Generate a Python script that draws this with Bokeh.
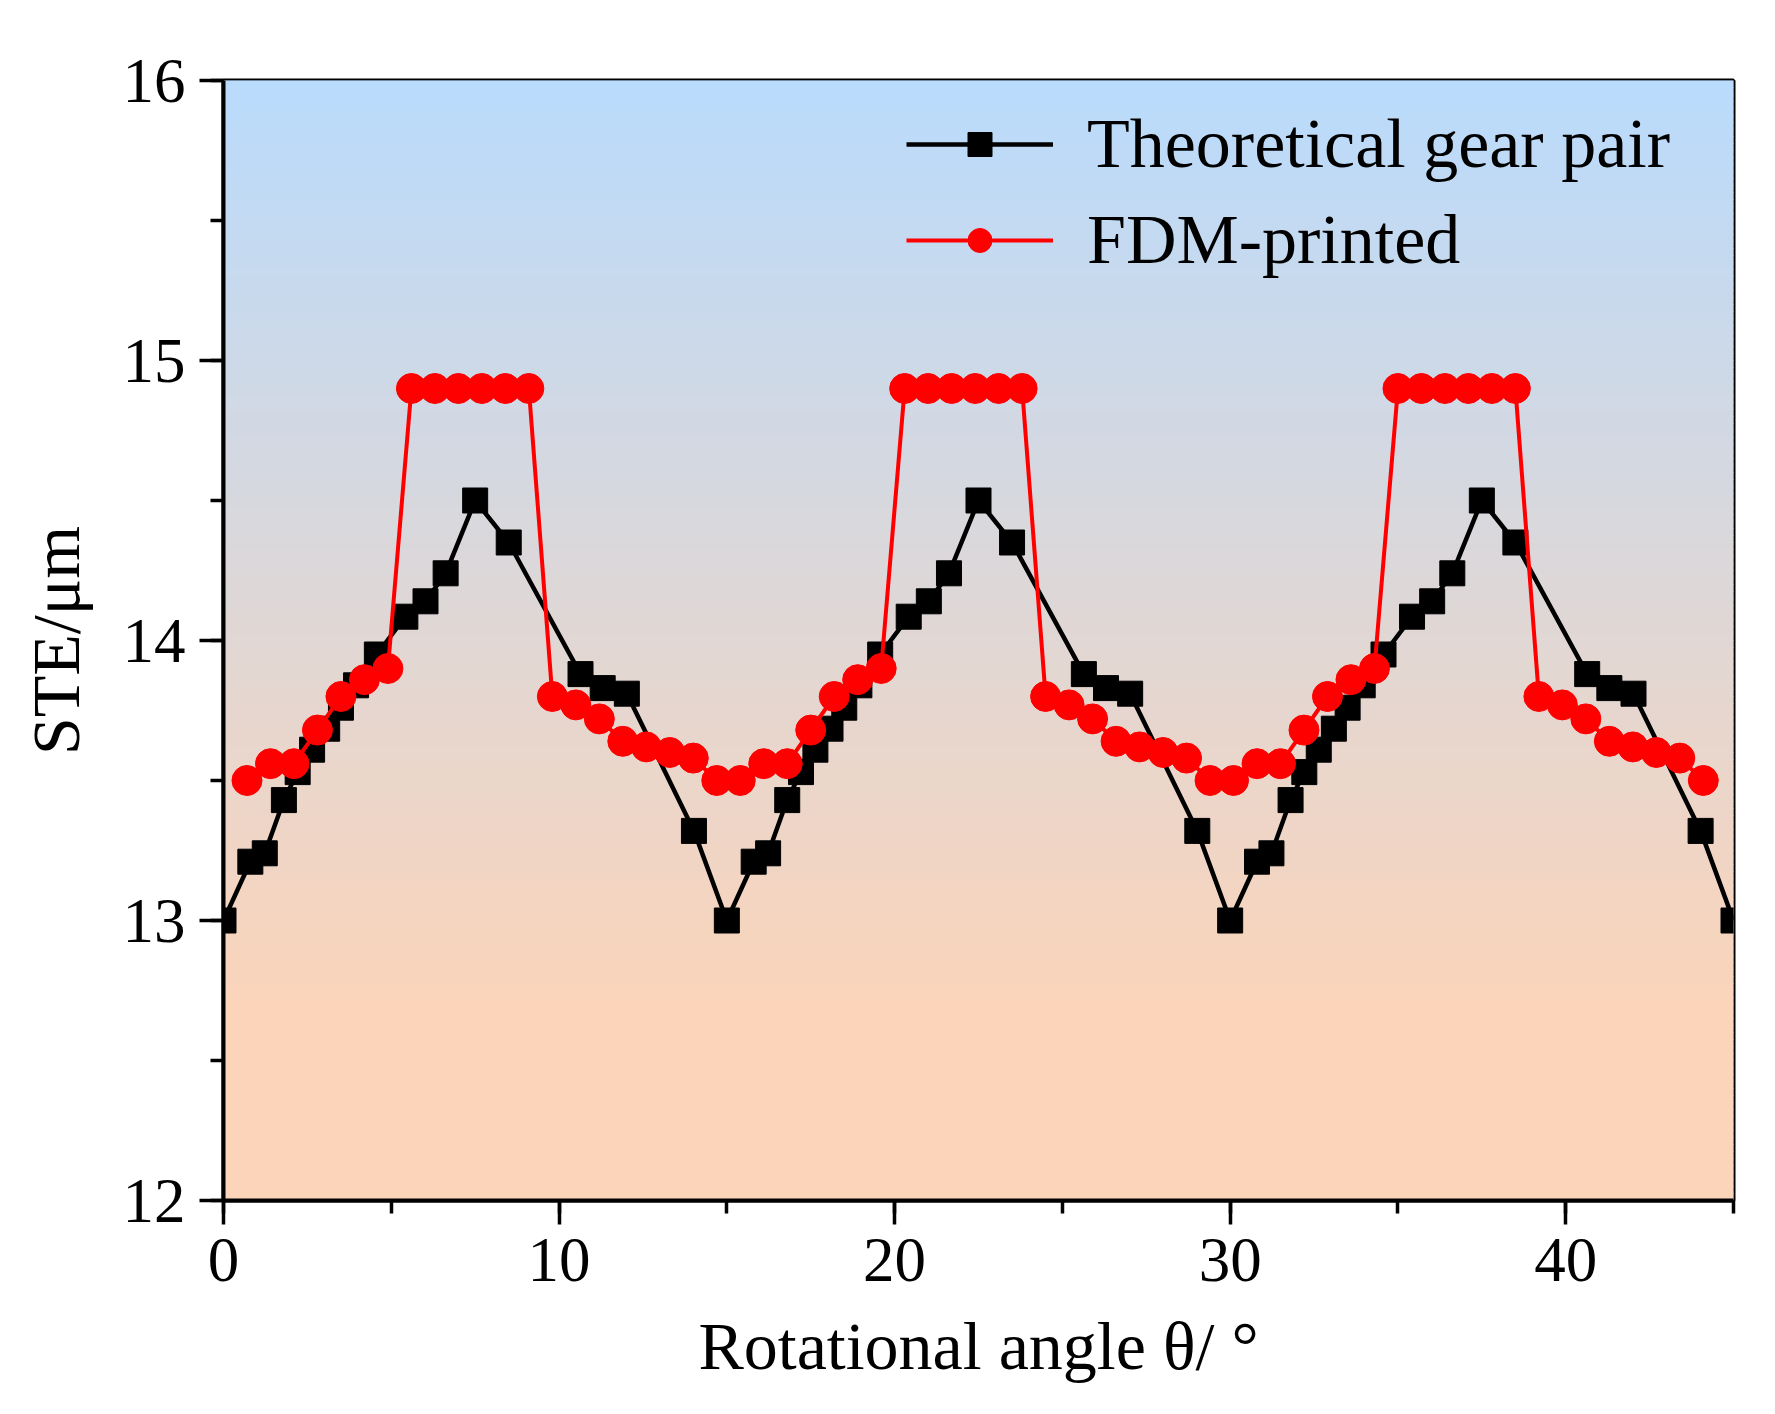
import numpy as np
from bokeh.plotting import figure
from bokeh.models import Range1d, SingleIntervalTicker, Legend, LegendItem
from bokeh.embed import file_html
from bokeh.resources import INLINE

# ---------------- data ----------------
theo_x = [0, 0.8, 1.23, 1.8, 2.21, 2.64, 3.09, 3.5, 3.95, 4.57, 5.42, 6.02, 6.62, 7.5, 8.5,
          10.64, 11.3, 12.02, 14.02,
          15, 15.8, 16.23, 16.8, 17.21, 17.64, 18.09, 18.5, 18.95, 19.57, 20.42, 21.02, 21.62,
          22.5, 23.5, 25.64, 26.3, 27.02, 29.02,
          30, 30.8, 31.23, 31.8, 32.21, 32.64, 33.09, 33.5, 33.95, 34.57, 35.42, 36.02, 36.62,
          37.5, 38.5, 40.64, 41.3, 42.02, 44.02, 45]
theo_y = [13.00, 13.21, 13.24, 13.43, 13.53, 13.61, 13.685, 13.76, 13.84, 13.95, 14.085, 14.14,
          14.24, 14.50, 14.35, 13.88, 13.83, 13.81, 13.32,
          13.00, 13.21, 13.24, 13.43, 13.53, 13.61, 13.685, 13.76, 13.84, 13.95, 14.085, 14.14,
          14.24, 14.50, 14.35, 13.88, 13.83, 13.81, 13.32,
          13.00, 13.21, 13.24, 13.43, 13.53, 13.61, 13.685, 13.76, 13.84, 13.95, 14.085, 14.14,
          14.24, 14.50, 14.35, 13.88, 13.83, 13.81, 13.32, 13.00]

fdm_x = [0.7, 1.4, 2.1, 2.8, 3.5, 4.2, 4.9, 5.6, 6.3, 7.0, 7.7, 8.4, 9.1, 9.8, 10.5, 11.2,
         11.9, 12.6, 13.3, 14.0, 14.7,
         15.4, 16.1, 16.8, 17.5, 18.2, 18.9, 19.6, 20.3, 21.0, 21.7, 22.4, 23.1, 23.8, 24.5,
         25.2, 25.9, 26.6, 27.3, 28.0, 28.7, 29.4,
         30.1, 30.8, 31.5, 32.2, 32.9, 33.6, 34.3, 35.0, 35.7, 36.4, 37.1, 37.8, 38.5, 39.2,
         39.9, 40.6, 41.3, 42.0, 42.7, 43.4, 44.1]
fdm_y = [13.50, 13.56, 13.56, 13.68, 13.80, 13.86, 13.90, 14.90, 14.90, 14.90, 14.90, 14.90,
         14.90, 13.80, 13.77, 13.72, 13.64, 13.62, 13.60, 13.58, 13.50,
         13.50, 13.56, 13.56, 13.68, 13.80, 13.86, 13.90, 14.90, 14.90, 14.90, 14.90, 14.90,
         14.90, 13.80, 13.77, 13.72, 13.64, 13.62, 13.60, 13.58, 13.50,
         13.50, 13.56, 13.56, 13.68, 13.80, 13.86, 13.90, 14.90, 14.90, 14.90, 14.90, 14.90,
         14.90, 13.80, 13.77, 13.72, 13.64, 13.62, 13.60, 13.58, 13.50]

series_labels = ["Theoretical gear pair", "FDM-printed"]
x_label = "Rotational angle θ/ °"
y_label = "STE/μm"

# ---------------- figure ----------------
FONT = "Liberation Serif"
X0, X1, Y0, Y1 = 0, 45, 12, 16

p = figure(width=1760, height=1400, output_backend="svg", toolbar_location=None,
           x_range=Range1d(X0, X1), y_range=Range1d(Y0, Y1),
           min_border_left=223, min_border_right=27, min_border_top=80,
           min_border_bottom=200)
p.xgrid.visible = False
p.ygrid.visible = False
p.border_fill_color = "white"
p.outline_line_color = "black"
p.outline_line_width = 4
p.outline_line_alpha = 1.0

# vertical gradient background (light blue -> peach)
top_c = np.array([185, 219, 252])
bot_c = np.array([251, 212, 186])
n = 160
edges = np.linspace(Y0, Y1, n + 1)
cols = []
for i in range(n):
    yc = 0.5 * (edges[i] + edges[i + 1])
    t = float(np.clip((Y1 - yc) / (Y1 - 12.7), 0, 1))
    c = top_c + (bot_c - top_c) * t
    cols.append("#%02x%02x%02x" % tuple(int(round(v)) for v in c))
p.quad(left=X0, right=X1, bottom=edges[:-1], top=edges[1:], fill_color=cols,
       line_color=cols, line_width=1, level="underlay")

bl = p.line(theo_x, theo_y, line_color="black", line_width=4.5)
bs = p.scatter(theo_x, theo_y, marker="square", size=25, fill_color="black",
               line_color="black")
rl = p.line(fdm_x, fdm_y, line_color="#ff0000", line_width=4)
rs = p.scatter(fdm_x, fdm_y, marker="circle", size=30, fill_color="#ff0000",
               line_color="#ff0000")

# axes
p.xaxis.ticker = SingleIntervalTicker(interval=10, num_minor_ticks=2)
p.yaxis.ticker = SingleIntervalTicker(interval=1, num_minor_ticks=2)
for ax in (p.xaxis[0], p.yaxis[0]):
    ax.axis_line_width = 4
    ax.axis_line_color = "black"
    ax.major_tick_line_width = 3.5
    ax.minor_tick_line_width = 3.5
    ax.major_tick_line_color = "black"
    ax.minor_tick_line_color = "black"
    ax.major_tick_in = 0
    ax.major_tick_out = 24
    ax.minor_tick_in = 0
    ax.minor_tick_out = 13
    ax.major_label_text_font = FONT
    ax.major_label_text_font_size = "63px"
    ax.major_label_text_color = "black"
    ax.axis_label_text_font = FONT
    ax.axis_label_text_font_size = "68px"
    ax.axis_label_text_font_style = "normal"
    ax.axis_label_text_color = "black"
p.xaxis.axis_label = x_label
p.yaxis.axis_label = y_label
p.xaxis.major_label_standoff = 14
p.xaxis.axis_label_standoff = 24
p.yaxis.major_label_standoff = 14
p.yaxis.axis_label_standoff = 26

legend = Legend(items=[LegendItem(label=series_labels[0], renderers=[bl, bs]),
                       LegendItem(label=series_labels[1], renderers=[rl, rs])],
                location=(683, 920), border_line_color=None, background_fill_alpha=0,
                glyph_width=147, glyph_height=60, label_height=60, spacing=16,
                padding=0, margin=0, label_standoff=34,
                label_text_font=FONT, label_text_font_size="70px",
                label_text_color="black")
p.add_layout(legend)

open("out.html", "w").write(file_html(p, INLINE))
